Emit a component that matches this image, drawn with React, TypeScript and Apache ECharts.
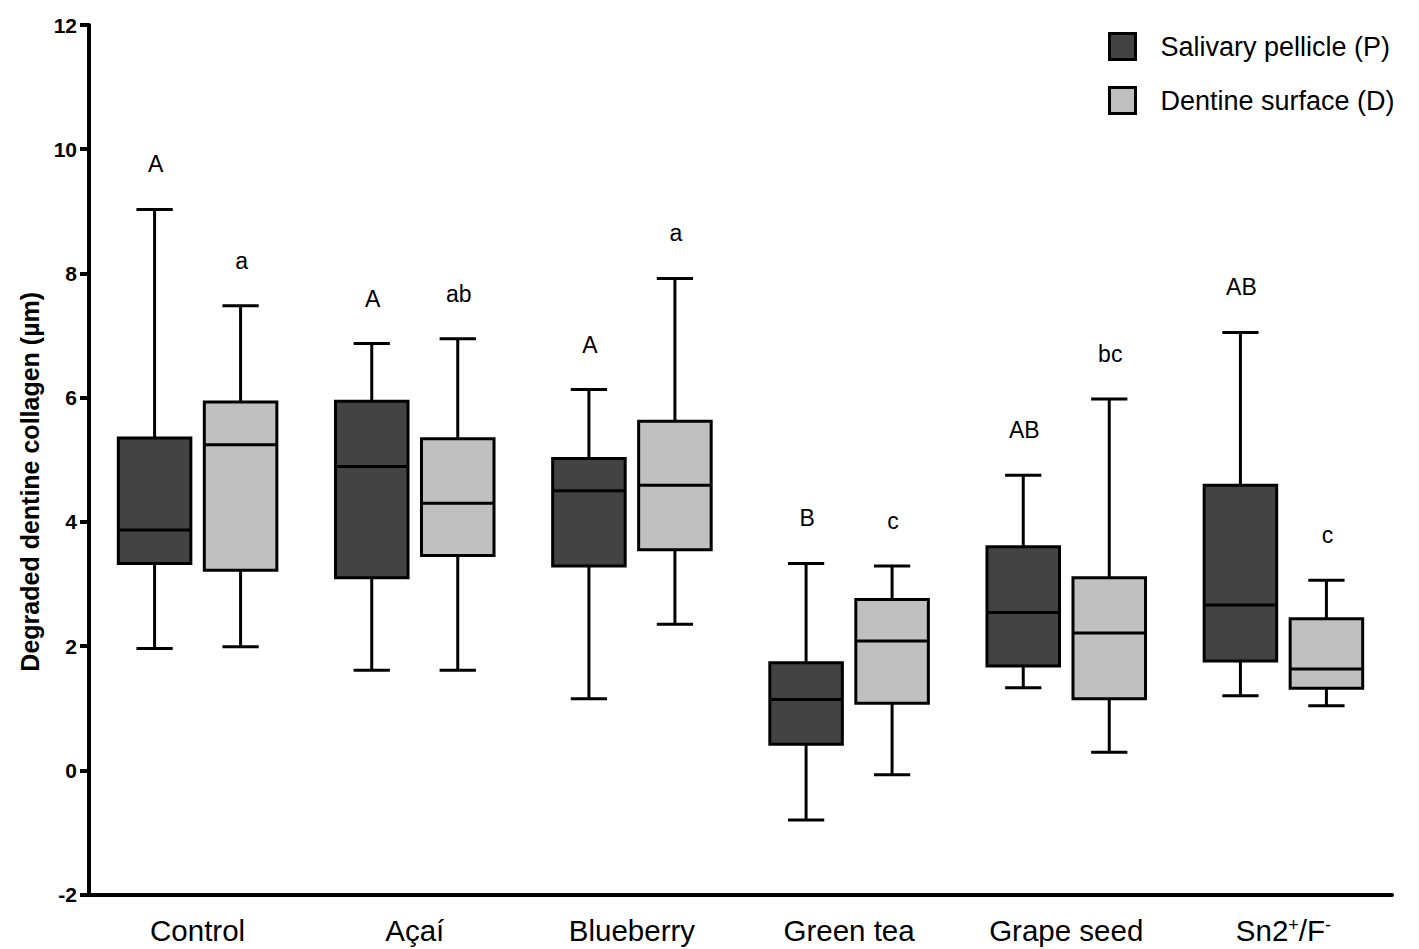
import React, { useEffect, useRef } from 'react';
import * as echarts from 'echarts';

const categories = ['Control', 'Açaí', 'Blueberry', 'Green tea', 'Grape seed', 'Sn2+/F-'];
const seriesNames = ['Salivary pellicle (P)', 'Dentine surface (D)'];

// [min, Q1, median, Q3, max]
const pellicleStats = [
  [1.96, 3.33, 3.87, 5.35, 9.03],
  [1.61, 3.1, 4.89, 5.94, 6.87],
  [1.15, 3.29, 4.5, 5.02, 6.13],
  [-0.8, 0.42, 1.14, 1.73, 3.33],
  [1.33, 1.68, 2.54, 3.6, 4.75],
  [1.2, 1.76, 2.66, 4.59, 7.05],
];
const dentineStats = [
  [1.99, 3.22, 5.24, 5.93, 7.48],
  [1.61, 3.46, 4.3, 5.34, 6.95],
  [2.35, 3.55, 4.59, 5.62, 7.92],
  [-0.07, 1.08, 2.08, 2.75, 3.29],
  [0.29, 1.15, 2.21, 3.1, 5.98],
  [1.04, 1.32, 1.63, 2.44, 3.06],
];
const pellicleLetters = ['A', 'A', 'A', 'B', 'AB', 'AB'];
const dentineLetters = ['a', 'ab', 'a', 'c', 'bc', 'c'];

const yMin = -2;
const yMax = 12;
const yInterval = 2;

const FONT = '"Liberation Sans", Arial, Helvetica, sans-serif';
const DARK = '#434343';
const LIGHT = '#c0c0c0';

function makeRender(offsetFrac: number, fill: string, letters: string[]) {
  return (params: any, api: any) => {
    const ci = api.value(0);
    const band = api.size([1, 0])[0];
    const cx = api.coord([ci, 0])[0] + offsetFrac * band;
    const py = (i: number) => api.coord([ci, api.value(i)])[1];
    const yLo = py(1);
    const yQ1 = py(2);
    const yMed = py(3);
    const yQ3 = py(4);
    const yHi = py(5);
    const boxW = band * 0.334;
    const capW = boxW * 0.5;
    const ls = { stroke: '#000', lineWidth: 3 };
    return {
      type: 'group',
      children: [
        { type: 'line', shape: { x1: cx, y1: yHi, x2: cx, y2: yQ3 }, style: ls },
        { type: 'line', shape: { x1: cx, y1: yQ1, x2: cx, y2: yLo }, style: ls },
        { type: 'line', shape: { x1: cx - capW / 2, y1: yHi, x2: cx + capW / 2, y2: yHi }, style: ls },
        { type: 'line', shape: { x1: cx - capW / 2, y1: yLo, x2: cx + capW / 2, y2: yLo }, style: ls },
        {
          type: 'rect',
          shape: { x: cx - boxW / 2, y: yQ3, width: boxW, height: yQ1 - yQ3 },
          style: { fill, stroke: '#000', lineWidth: 3 },
        },
        { type: 'line', shape: { x1: cx - boxW / 2, y1: yMed, x2: cx + boxW / 2, y2: yMed }, style: ls },
        {
          type: 'text',
          x: cx + 1,
          y: yHi - 45,
          style: {
            text: letters[params.dataIndex],
            fill: '#000',
            fontSize: 23,
            fontFamily: FONT,
            align: 'center',
            verticalAlign: 'middle',
          },
        },
      ],
    };
  };
}

export default function App() {
  const ref = useRef<HTMLDivElement>(null);

  useEffect(() => {
    if (!ref.current) return;
    const chart = echarts.init(ref.current, undefined, { renderer: 'svg' });
    const toData = (stats: number[][]) => stats.map((s, i) => [i, ...s]);
    chart.setOption({
      animation: false,
      backgroundColor: '#fff',
      textStyle: { fontFamily: FONT },
      grid: { left: 89, right: 27, top: 25, bottom: 54.5 },
      legend: {
        orient: 'vertical',
        left: 1108,
        top: 32,
        padding: 0,
        itemWidth: 26,
        itemHeight: 26,
        itemGap: 25,
        selectedMode: false,
        textStyle: { fontSize: 27, color: '#000', fontFamily: FONT, padding: [0, 0, 0, 20], lineHeight: 26 },
        data: [
          { name: seriesNames[0], icon: 'rect', itemStyle: { color: DARK, borderColor: '#000', borderWidth: 3 } },
          { name: seriesNames[1], icon: 'rect', itemStyle: { color: LIGHT, borderColor: '#000', borderWidth: 3 } },
        ],
      },
      xAxis: {
        type: 'category',
        data: categories,
        boundaryGap: true,
        axisLine: { show: true, onZero: false, lineStyle: { color: '#000', width: 4 } },
        axisTick: { show: false },
        splitLine: { show: false },
        axisLabel: {
          color: '#000',
          fontSize: 29.5,
          fontFamily: FONT,
          margin: 21,
          interval: 0,
          formatter: (v: string) => (v === 'Sn2+/F-' ? 'Sn2{sup|+}/F{sup|-}' : v),
          rich: {
            sup: { fontSize: 18, color: '#000', fontFamily: FONT, verticalAlign: 'top', padding: [0, 0, 10, 0] },
          },
        },
      },
      yAxis: {
        type: 'value',
        min: yMin,
        max: yMax,
        interval: yInterval,
        name: 'Degraded dentine collagen (µm)',
        nameLocation: 'middle',
        nameGap: 46,
        nameTextStyle: {
          fontSize: 25,
          fontWeight: 'bold',
          color: '#000',
          fontFamily: FONT,
          padding: [0, 44, 0, 0],
        },
        axisLine: { show: true, lineStyle: { color: '#000', width: 4 } },
        axisTick: { show: true, length: 9, lineStyle: { color: '#000', width: 4 } },
        splitLine: { show: false },
        axisLabel: { color: '#000', fontSize: 21, fontWeight: 'bold', fontFamily: FONT, margin: 12 },
      },
      series: [
        {
          name: seriesNames[0],
          type: 'custom',
          itemStyle: { color: DARK },
          encode: { x: 0, y: [1, 2, 3, 4, 5] },
          renderItem: makeRender(-0.198, DARK, pellicleLetters),
          data: toData(pellicleStats),
        },
        {
          name: seriesNames[1],
          type: 'custom',
          itemStyle: { color: LIGHT },
          encode: { x: 0, y: [1, 2, 3, 4, 5] },
          renderItem: makeRender(0.198, LIGHT, dentineLetters),
          data: toData(dentineStats),
        },
      ],
    });
    return () => chart.dispose();
  }, []);

  return (
    <div
      ref={ref}
      style={{ position: 'absolute', left: 0, top: 0, width: 1419, height: 949, background: '#fff' }}
    />
  );
}
